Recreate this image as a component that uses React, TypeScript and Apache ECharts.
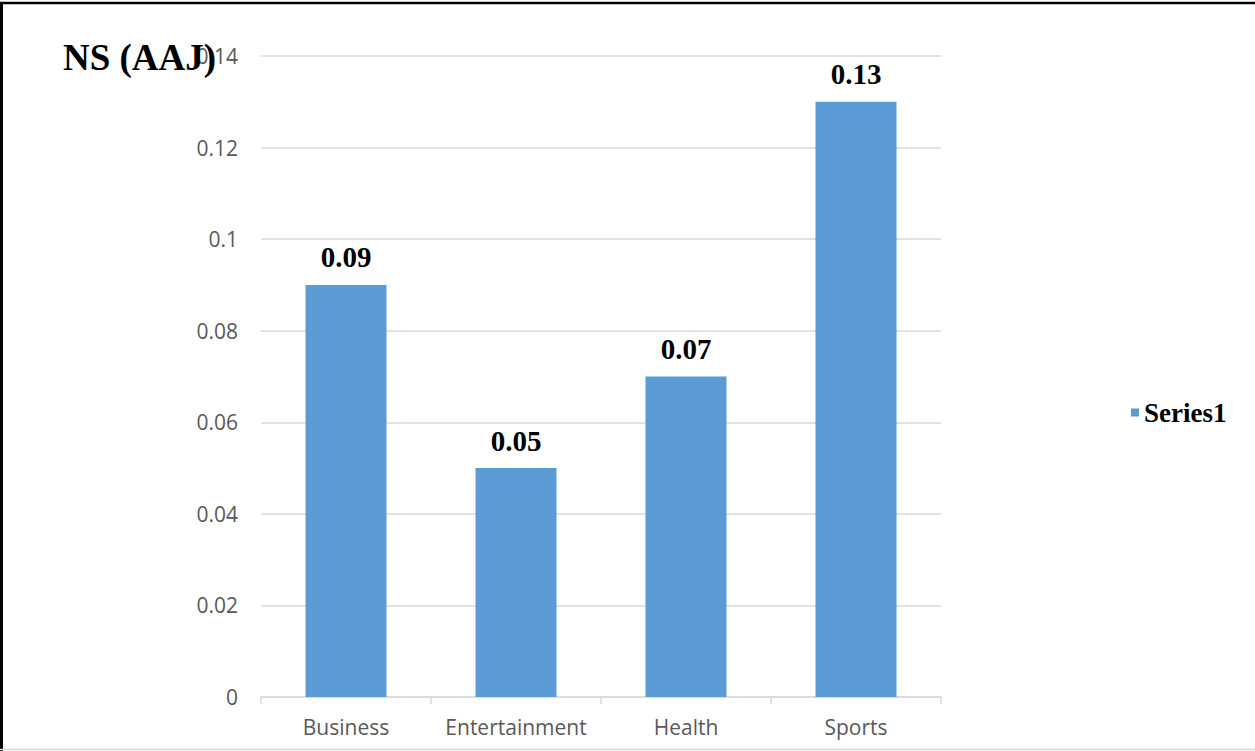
import React, { useEffect, useRef } from "react";
import * as echarts from "echarts";

const categories = ["Business", "Entertainment", "Health", "Sports"];
const values = [0.09, 0.05, 0.07, 0.13];
const seriesName = "Series1";
const chartTitle = "NS (AAJ)";
const yMin = 0;
const yMax = 0.14;
const yStep = 0.02;

export default function App() {
  const ref = useRef<HTMLDivElement>(null);
  useEffect(() => {
    if (!ref.current) return;
    const chart = echarts.init(ref.current, null, { renderer: "svg" });
    const serif = "'Liberation Serif', 'Times New Roman', serif";
    const sans = "'Open Sans', 'Noto Sans', sans-serif";
    chart.setOption({
      animation: false,
      backgroundColor: "#ffffff",
      grid: { left: 261, right: 314, top: 56, bottom: 54, containLabel: false },
      legend: {
        data: [seriesName],
        left: 1126,
        top: 394,
        icon: "rect",
        itemWidth: 8,
        itemHeight: 8,
        itemGap: 10,
        textStyle: { fontFamily: serif, fontWeight: "bold", fontSize: 27, color: "#000" },
      },
      xAxis: {
        type: "category",
        data: categories,
        axisLine: { lineStyle: { color: "#d9d9d9", width: 1.5 } },
        axisTick: { show: true, alignWithLabel: false, interval: 0, length: 7, lineStyle: { color: "#d9d9d9", width: 1.5 } },
        axisLabel: { interval: 0, fontFamily: sans, fontSize: 21, color: "#595959", margin: 19 },
      },
      yAxis: {
        type: "value",
        min: yMin,
        max: yMax,
        interval: yStep,
        axisLine: { show: false },
        axisTick: { show: false },
        splitLine: { lineStyle: { color: "#d9d9d9", width: 1.5 } },
        axisLabel: { fontFamily: sans, fontSize: 21, color: "#595959", margin: 23 },
      },
      series: [
        {
          name: seriesName,
          type: "bar",
          data: values,
          barWidth: 81,
          itemStyle: { color: "#5b9bd5" },
          label: {
            show: true,
            position: "top",
            distance: 13,
            fontFamily: serif,
            fontWeight: "bold",
            fontSize: 29,
            color: "#000",
          },
        },
      ],
      graphic: [
        {
          type: "text",
          left: 63,
          top: 39,
          z: 10,
          style: { text: chartTitle, fontFamily: serif, fontWeight: "bold", fontSize: 37, fill: "#000" },
        },
        { type: "line", shape: { x1: 0, y1: 3, x2: 1255, y2: 3 }, style: { stroke: "#000", lineWidth: 2.5 } },
        { type: "line", shape: { x1: 1.5, y1: 2, x2: 1.5, y2: 751 }, style: { stroke: "#000", lineWidth: 3 } },
        { type: "line", shape: { x1: 0, y1: 749.5, x2: 1255, y2: 749.5 }, style: { stroke: "#d9d9d9", lineWidth: 1.5 } },
      ],
    });
    return () => chart.dispose();
  }, []);
  return (
    <div
      ref={ref}
      style={{ position: "absolute", left: 0, top: 0, width: 1255, height: 751 }}
    />
  );
}
